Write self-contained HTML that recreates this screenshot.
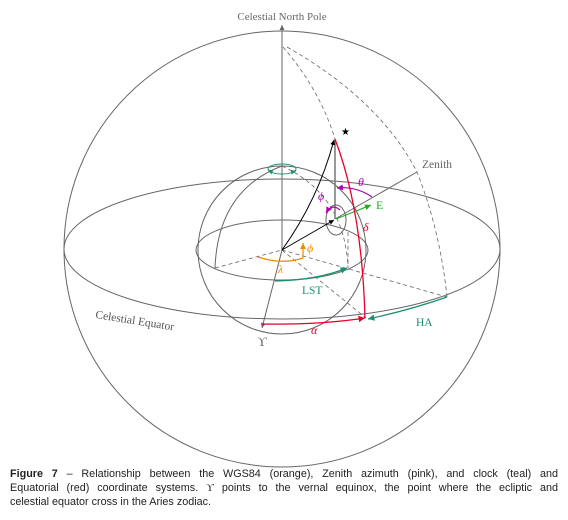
<!DOCTYPE html>
<html><head><meta charset="utf-8"><style>
body{margin:0;background:#fff;width:568px;height:520px;overflow:hidden;position:relative}
svg{display:block;position:absolute;left:0;top:0}
.g{stroke:#666;fill:none;stroke-width:1}
.d{stroke:#666;fill:none;stroke-width:0.8;stroke-dasharray:4,3}
text{font-family:"Liberation Serif",serif}
#cap{position:absolute;left:10px;top:467px;width:548px;font-family:"Liberation Sans",sans-serif;font-size:10.8px;line-height:14px;color:#222}
#cap div{white-space:nowrap}
#cap .j{text-align:justify;text-align-last:justify;white-space:normal}
</style></head><body>
<svg width="568" height="520" viewBox="0 0 568 520">
<defs>
<marker id="ag" markerWidth="6" markerHeight="6" refX="5" refY="3" orient="auto"><path d="M0,0.5 L5,3 L0,5.5 Z" fill="#666"/></marker>
<marker id="ak" markerWidth="6" markerHeight="6" refX="5" refY="3" orient="auto"><path d="M0,0.5 L5,3 L0,5.5 Z" fill="#000"/></marker>
<marker id="ar" markerWidth="6" markerHeight="6" refX="5" refY="3" orient="auto"><path d="M0,0.5 L5,3 L0,5.5 Z" fill="#e8002a"/></marker>
<marker id="at" markerWidth="6" markerHeight="6" refX="5" refY="3" orient="auto"><path d="M0,0.5 L5,3 L0,5.5 Z" fill="#1a9070"/></marker>
<marker id="ae" markerWidth="6" markerHeight="6" refX="5" refY="3" orient="auto"><path d="M0,0.5 L5,3 L0,5.5 Z" fill="#22aa22"/></marker>
<marker id="ap" markerWidth="6" markerHeight="6" refX="5" refY="3" orient="auto"><path d="M0,0.5 L5,3 L0,5.5 Z" fill="#b000b0"/></marker>
<marker id="ao" markerWidth="6" markerHeight="6" refX="5" refY="3" orient="auto"><path d="M0,0.5 L5,3 L0,5.5 Z" fill="#f08c00"/></marker>
</defs>
<circle class="g" cx="282" cy="249" r="218"/>
<ellipse class="g" cx="282" cy="249" rx="218" ry="70"/>
<circle class="g" cx="282" cy="250" r="84"/>
<path class="g" d="M196,250 A86,30 0 0 0 368,250"/>
<path class="g" d="M196,250 A86,30 0 0 1 368,250"/>
<path class="g" d="M282,166 Q218,190 215,268"/>
<path class="d" d="M282,166 Q345,195 348,268"/>
<line class="d" x1="348" y1="232" x2="348" y2="268"/>
<line class="d" x1="215" y1="268" x2="282" y2="250"/>
<line class="d" x1="282" y1="250" x2="447" y2="297"/>
<line class="d" x1="282" y1="250" x2="366" y2="318"/>
<path class="d" d="M283,47 Q320,90 335,139"/>
<path class="d" d="M287,47 Q380,100 417,172 Q440,230 447,297"/>
<line class="g" x1="282" y1="250" x2="282" y2="25" marker-end="url(#ag)"/>
<text x="282" y="20" font-size="11" fill="#666" text-anchor="middle">Celestial North Pole</text>
<line class="g" x1="282" y1="250" x2="262" y2="328" marker-end="url(#ag)"/>
<text x="262" y="346" font-size="13" fill="#666" text-anchor="middle">ϒ</text>
<line class="g" x1="335" y1="219" x2="417" y2="172"/>
<text x="422" y="168" font-size="11.5" fill="#666">Zenith</text>
<line stroke="#777" stroke-width="1.5" x1="335" y1="219" x2="335" y2="140"/>
<ellipse class="g" cx="336" cy="220" rx="10" ry="15"/>
<line stroke="#000" x1="282" y1="250" x2="334" y2="220" marker-end="url(#ak)"/>
<path stroke="#000" fill="none" d="M282,250 Q318,200 334,140" marker-end="url(#ak)"/>
<line stroke="#22aa22" stroke-width="1.2" x1="336" y1="219" x2="371" y2="205" marker-end="url(#ae)"/>
<text x="376" y="209" font-size="12" fill="#22aa22">E</text>
<path stroke="#e8002a" stroke-width="1.3" fill="none" d="M335,139 Q362,210 365,318"/>
<text x="363" y="231" font-size="12" font-style="italic" fill="#e8002a">δ</text>
<path stroke="#e8002a" stroke-width="1.3" fill="none" d="M262,324 Q320,325 365,318" marker-end="url(#ar)"/>
<text x="311" y="334" font-size="12" font-style="italic" fill="#e8002a">α</text>
<path stroke="#1a9070" stroke-width="1.3" fill="none" d="M447,297 Q410,310 368,319" marker-end="url(#at)"/>
<text x="416" y="326" font-size="11.5" fill="#1a9070">HA</text>
<path stroke="#1a9070" stroke-width="1.3" fill="none" d="M275,281 Q318,280 347,268" marker-end="url(#at)"/>
<text x="302" y="294" font-size="11.5" fill="#1a9070">LST</text>
<ellipse cx="282" cy="169" rx="14" ry="5" stroke="#1a9070" fill="none"/>
<path d="M272,172 L268,170" stroke="#1a9070" marker-end="url(#at)"/>
<path d="M292,172 L296,171" stroke="#1a9070" marker-end="url(#at)"/>
<path stroke="#f08c00" stroke-width="1.2" fill="none" d="M258,257 Q282,265 303,258"/>
<path stroke="#f08c00" stroke-width="1.2" fill="none" d="M303,258 L303,243" marker-end="url(#ao)"/>
<text x="278" y="273" font-size="12" font-style="italic" fill="#f08c00">λ</text>
<text x="307" y="252" font-size="12" font-style="italic" fill="#f08c00">ϕ</text>
<path stroke="#b000b0" stroke-width="1.2" fill="none" d="M372,197 Q356,186 337,188" marker-end="url(#ap)"/>
<text x="358" y="186" font-size="12" font-style="italic" fill="#b000b0">θ</text>
<path stroke="#b000b0" stroke-width="1.2" fill="none" d="M340,210 Q332,203 326,213" marker-end="url(#ap)"/>
<text x="318" y="200" font-size="12" font-style="italic" fill="#b000b0">ϕ</text>
<text x="341" y="135" font-size="10" font-family="DejaVu Sans">★</text>
<text x="95" y="318" font-size="11.5" fill="#555" transform="rotate(9 95 318)">Celestial Equator</text>
</svg>
<div id="cap">
<div class="j"><b>Figure 7</b> – Relationship between the WGS84 (orange), Zenith azimuth (pink), and clock (teal) and</div>
<div class="j">Equatorial (red) coordinate systems. <span style="font-family:'Liberation Serif',serif">ϒ</span> points to the vernal equinox, the point where the ecliptic and</div>
<div>celestial equator cross in the Aries zodiac.</div>
</div>
</body></html>
